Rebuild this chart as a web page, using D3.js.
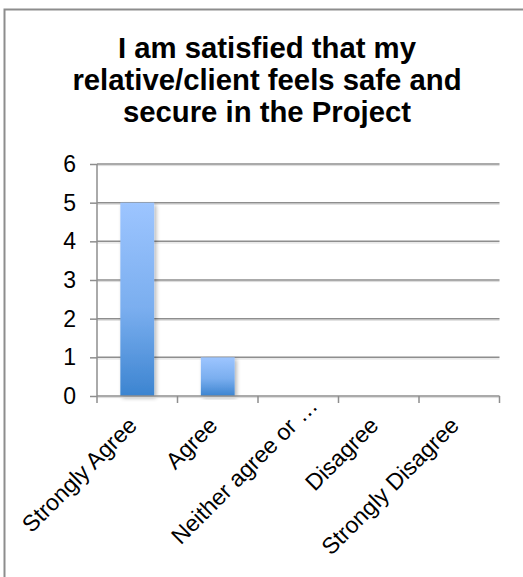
<!DOCTYPE html>
<html>
<head>
<meta charset="utf-8">
<script src="https://cdn.jsdelivr.net/npm/d3@7"></script>
<style>
  html, body { margin: 0; padding: 0; background: #fff; }
  svg { display: block; font-family: "Liberation Sans", Arial, sans-serif; }
</style>
</head>
<body>
<svg id="chart" width="523" height="577"></svg>
<script>
// Survey responses
const categories = ["Strongly Agree", "Agree", "Neither agree or \u2026", "Disagree", "Strongly Disagree"];
const counts = [5, 1, 0, 0, 0];
const yTicks = [0, 1, 2, 3, 4, 5, 6];
const titleLines = ["I am satisfied that my", "relative/client feels safe and", "secure in the Project"];

const svg = d3.select("#chart");
const W = 523, H = 577;
const plot = { left: 97, right: 499.5, top: 164, bottom: 396 };

// Chart frame (continues past the right and bottom edges)
svg.append("path")
  .attr("d", `M4.5,${H + 5} V9.5 H${W + 5}`)
  .attr("fill", "none")
  .attr("stroke", "#8d8d8d")
  .attr("stroke-width", 2);

// Title
svg.append("text")
  .attr("text-anchor", "middle")
  .attr("font-weight", "bold")
  .attr("font-size", 29.3)
  .attr("fill", "#000")
  .selectAll("tspan")
  .data(titleLines)
  .join("tspan")
  .attr("x", 267)
  .attr("y", (d, i) => 58 + i * 32)
  .text(d => d);

const x = d3.scaleBand()
  .domain(categories)
  .range([plot.left, plot.right])
  .paddingInner(0.58)
  .paddingOuter(0.29);

const y = d3.scaleLinear()
  .domain([0, 6])
  .range([plot.bottom, plot.top]);

// Bar gradient and soft shadow
const defs = svg.append("defs");
const grad = defs.append("linearGradient")
  .attr("id", "barFill")
  .attr("x1", 0).attr("y1", 0).attr("x2", 0).attr("y2", 1);
grad.append("stop").attr("offset", "0%").attr("stop-color", "#9dc5ff");
grad.append("stop").attr("offset", "55%").attr("stop-color", "#7aaeef");
grad.append("stop").attr("offset", "100%").attr("stop-color", "#3c84d0");

const shadow = defs.append("filter")
  .attr("id", "barShadow")
  .attr("x", "-20%").attr("y", "-5%").attr("width", "150%").attr("height", "115%");
shadow.append("feGaussianBlur").attr("in", "SourceAlpha").attr("stdDeviation", 2).attr("result", "b");
shadow.append("feOffset").attr("in", "b").attr("dx", 1.5).attr("dy", 1.5).attr("result", "o");
shadow.append("feComponentTransfer").attr("in", "o").attr("result", "s")
  .append("feFuncA").attr("type", "linear").attr("slope", 0.3);
const merge = shadow.append("feMerge");
merge.append("feMergeNode").attr("in", "s");
merge.append("feMergeNode").attr("in", "SourceGraphic");

// Horizontal gridlines with a faint underline
const grid = svg.append("g");
grid.selectAll("line.under")
  .data(yTicks.filter(d => d > 0))
  .join("line")
  .attr("class", "under")
  .attr("x1", plot.left).attr("x2", plot.right)
  .attr("y1", d => y(d) + 1.6).attr("y2", d => y(d) + 1.6)
  .attr("stroke", "#dadada").attr("stroke-width", 1);
grid.selectAll("line.main")
  .data(yTicks.filter(d => d > 0))
  .join("line")
  .attr("class", "main")
  .attr("x1", plot.left).attr("x2", plot.right)
  .attr("y1", d => y(d)).attr("y2", d => y(d))
  .attr("stroke", "#8e8e8e").attr("stroke-width", 1.5);

// Bars
svg.append("g")
  .selectAll("rect")
  .data(categories.map((c, i) => ({ c, v: counts[i] })).filter(d => d.v > 0))
  .join("rect")
  .attr("x", d => x(d.c))
  .attr("y", d => y(d.v))
  .attr("width", x.bandwidth())
  .attr("height", d => y(0) - y(d.v))
  .attr("fill", "url(#barFill)")
  .attr("filter", "url(#barShadow)");

// Y axis
const yAxis = svg.append("g")
  .attr("transform", `translate(${plot.left},0)`)
  .call(d3.axisLeft(y).tickValues(yTicks).tickSize(7).tickPadding(14).tickFormat(d3.format("d")));
yAxis.select(".domain").attr("stroke", "#8e8e8e").attr("stroke-width", 1.5).attr("d", `M0,${plot.bottom}V${plot.top}`);
yAxis.selectAll(".tick line").attr("stroke", "#8e8e8e").attr("stroke-width", 1.5);
yAxis.selectAll(".tick text")
  .attr("font-size", 23)
  .attr("font-family", "Liberation Sans, Arial, sans-serif")
  .attr("fill", "#000");

// X axis line with boundary ticks between categories
const boundaries = categories.map(c => x(c) - (x.step() - x.bandwidth()) / 2).concat([plot.right]);
const xAxis = svg.append("g");
xAxis.append("line")
  .attr("x1", plot.left).attr("x2", plot.right)
  .attr("y1", plot.bottom).attr("y2", plot.bottom)
  .attr("stroke", "#8e8e8e").attr("stroke-width", 1.5);
xAxis.append("line")
  .attr("x1", plot.left).attr("x2", plot.right)
  .attr("y1", plot.bottom + 1.6).attr("y2", plot.bottom + 1.6)
  .attr("stroke", "#dadada").attr("stroke-width", 1);
xAxis.selectAll("line.tick")
  .data(boundaries)
  .join("line")
  .attr("class", "tick")
  .attr("x1", d => d).attr("x2", d => d)
  .attr("y1", plot.bottom).attr("y2", plot.bottom + 7)
  .attr("stroke", "#8e8e8e").attr("stroke-width", 1.5);

// Rotated category labels; a label cut short with an ellipsis keeps the
// anchor of its full text, so it sits further along the diagonal
const truncShift = 28;
xAxis.selectAll("text")
  .data(categories)
  .join("text")
  .attr("transform", d => {
    const s = d.endsWith("\u2026") ? truncShift / Math.SQRT2 : 0;
    return `translate(${x(d) + x.bandwidth() / 2 + 1 + s},${plot.bottom + 31 - s}) rotate(-45)`;
  })
  .attr("text-anchor", "end")
  .attr("font-size", 23)
  .attr("fill", "#000")
  .text(d => d);
</script>
</body>
</html>
